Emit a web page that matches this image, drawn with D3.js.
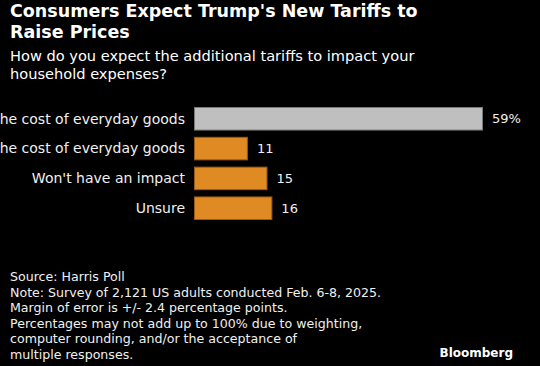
<!DOCTYPE html>
<html><head><meta charset="utf-8">
<script src="https://cdn.jsdelivr.net/npm/d3@7"></script>
<style>
html,body{margin:0;padding:0;background:#000;}
svg{display:block;}
</style></head>
<body>
<svg id="chart" width="540" height="366"></svg>
<script>
const categories = ["Increase the cost of everyday goods", "Decrease the cost of everyday goods", "Won't have an impact", "Unsure"];
const values = [59, 11, 15, 16];
const valueLabels = ["59%", "11", "15", "16"];
const titleLines = ["Consumers Expect Trump's New Tariffs to", "Raise Prices"];
const subtitleLines = ["How do you expect the additional tariffs to impact your", "household expenses?"];
const footerLines = ["Source: Harris Poll", "Note: Survey of 2,121 US adults conducted Feb. 6-8, 2025.", "Margin of error is +/- 2.4 percentage points.", "Percentages may not add up to 100% due to weighting,", "computer rounding, and/or the acceptance of", "multiple responses."];

const svg = d3.select("#chart");
svg.append("rect").attr("width",540).attr("height",366).attr("fill","#000");

const font = "Tahoma, 'DejaVu Sans', Verdana, sans-serif";

svg.append("g").selectAll("text").data(titleLines).join("text")
  .attr("x",10).attr("y",(d,i)=>17+i*21)
  .attr("fill","#fff").attr("font-family","'DejaVu Sans', sans-serif")
  .attr("font-weight","bold").attr("font-size",17.5).text(d=>d);

svg.append("g").selectAll("text").data(subtitleLines).join("text")
  .attr("x",10).attr("y",(d,i)=>61+i*18)
  .attr("fill","#fff").attr("font-family",font)
  .attr("font-size",14.6).text(d=>d);

const x = d3.scaleLinear().domain([0,59]).range([194,483]);
const y = d3.scaleBand().domain(categories).range([107,220]).paddingInner(0.21).paddingOuter(0);

const g = svg.append("g");
g.selectAll("rect").data(categories).join("rect")
  .attr("x",x(0)+0.5).attr("y",d=>y(d)+0.5)
  .attr("width",(d,i)=>x(values[i])-x(0)-1)
  .attr("height",y.bandwidth()-1)
  .attr("fill",(d,i)=>i===0?"#bfbfbf":"#e08a24")
  .attr("stroke",(d,i)=>i===0?"#7a7a7a":"#9a5a14")
  .attr("stroke-width",1);

g.selectAll("text.cat").data(categories).join("text").attr("class","cat")
  .attr("x",x(0)-9).attr("y",d=>y(d)+y.bandwidth()/2)
  .attr("dy","0.35em").attr("text-anchor","end")
  .attr("fill","#f0f0f0").attr("font-family",font).attr("font-size",14).text(d=>d);

g.selectAll("text.val").data(categories).join("text").attr("class","val")
  .attr("x",(d,i)=>x(values[i])+9).attr("y",d=>y(d)+y.bandwidth()/2)
  .attr("dy","0.35em")
  .attr("fill","#f0f0f0").attr("font-family",font).attr("font-size",13).text((d,i)=>valueLabels[i]);

svg.append("g").selectAll("text").data(footerLines).join("text")
  .attr("x",10).attr("y",(d,i)=>281+i*15.6)
  .attr("fill","#f0f0f0").attr("font-family",font)
  .attr("font-size",12.6).text(d=>d);

svg.append("text").attr("x",513).attr("y",357).attr("text-anchor","end")
  .attr("fill","#fff").attr("font-family","'DejaVu Sans', sans-serif")
  .attr("font-weight","bold").attr("font-size",12).text("Bloomberg");
</script>
</body></html>
